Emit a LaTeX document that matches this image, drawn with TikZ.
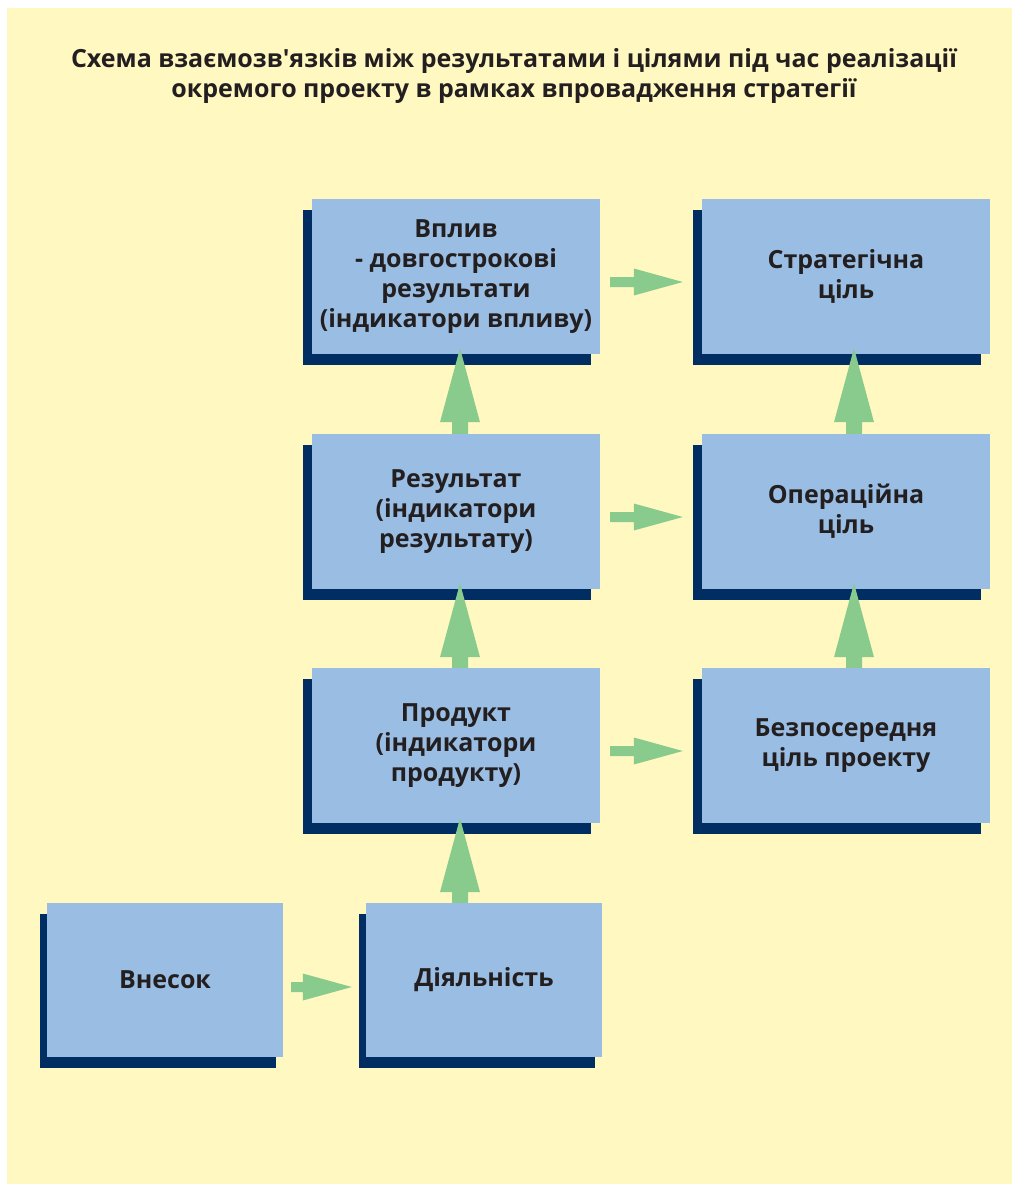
\documentclass[tikz,border=0pt]{standalone}
\usepackage{fontspec}
\setmainfont{Open Sans}
\usetikzlibrary{calc,shadows}
\definecolor{bgc}{RGB}{255,248,192}
\definecolor{boxc}{RGB}{154,189,227}
\definecolor{shadc}{RGB}{0,45,98}
\definecolor{arrc}{RGB}{137,203,141}
\definecolor{txtc}{RGB}{35,31,32}
\tikzset{
  bigbox/.style={fill=boxc, draw=none, minimum width=288pt, minimum height=155pt, inner sep=0pt,
    align=center, text=txtc, font=\bfseries\fontsize{25}{30}\selectfont,
    general shadow={fill=shadc, shadow xshift=-9pt, shadow yshift=-11pt}},
  smallbox/.style={fill=boxc, draw=none, minimum width=236pt, minimum height=154pt, inner sep=0pt,
    align=center, text=txtc, font=\bfseries\fontsize{25}{30}\selectfont,
    general shadow={fill=shadc, shadow xshift=-7pt, shadow yshift=-11pt}},
  titlec/.style={align=center, text=txtc, font=\bfseries\fontsize{25}{30}\selectfont, inner sep=0pt},
  arrowfill/.style={fill=arrc, draw=none}
}
\newcommand\harrow[2]{\path[arrowfill] let \p1=(#1), \p2=(#2) in
  (\x1,\y1+5pt) -- (\x2-49pt,\y1+5pt) -- (\x2-49pt,\y1+13.5pt) -- (\x2,\y1) --
  (\x2-49pt,\y1-13.5pt) -- (\x2-49pt,\y1-5pt) -- (\x1,\y1-5pt) -- cycle;}
\newcommand\varrow[2]{\path[arrowfill] let \p1=(#1), \p2=(#2) in
  (\x1-8pt,\y1) -- (\x1-8pt,\y2-74pt) -- (\x1-20pt,\y2-74pt) -- (\x1,\y2) --
  (\x1+20pt,\y2-74pt) -- (\x1+8pt,\y2-74pt) -- (\x1+8pt,\y1) -- cycle;}
\begin{document}
\begin{tikzpicture}[x=1pt,y=-1pt]
\useasboundingbox (0,0) rectangle (1012,1184);
\fill[white] (0,0) rectangle (1012,1184);
\fill[bgc] (7,8) rectangle (1012,1184);
\node[titlec] (title) at (514,76) {Схема взаємозв\textquotesingle язків між результатами і цілями під час реалізації\\окремого проекту в рамках впровадження стратегії};
\node[bigbox] (vplyv) at (456,276.5) {Вплив\\- довгострокові\\результати\\(індикатори впливу)};
\node[bigbox] (strat) at (846,276.5) {Стратегічна\\ціль};
\node[bigbox] (rez) at (456,511.5) {Результат\\(індикатори\\результату)};
\node[bigbox] (oper) at (846,511.5) {Операційна\\ціль};
\node[bigbox] (prod) at (456,745.5) {Продукт\\(індикатори\\продукту)};
\node[bigbox] (bezp) at (846,745.5) {Безпосередня\\ціль проекту};
\node[smallbox] (vnesok) at (165,980) {Внесок};
\node[smallbox] (diyal) at (484,980) {Діяльність};
% horizontal arrows
\harrow{$(vplyv.east)+(10,5.5)$}{$(strat.west)+(-19,5.5)$}
\harrow{$(rez.east)+(10,5.5)$}{$(oper.west)+(-19,5.5)$}
\harrow{$(prod.east)+(10,5.5)$}{$(bezp.west)+(-19,5.5)$}
\harrow{$(vnesok.east)+(8,7)$}{$(diyal.west)+(-14,7)$}
% vertical arrows
\varrow{$(rez.north)+(4,0)$}{$(vplyv.south)+(4,-6)$}
\varrow{$(prod.north)+(4,0)$}{$(rez.south)+(4,-6)$}
\varrow{$(diyal.north)+(-24,0)$}{$(prod.south)+(4,-5)$}
\varrow{$(oper.north)+(8,0)$}{$(strat.south)+(8,-6)$}
\varrow{$(bezp.north)+(8,0)$}{$(oper.south)+(8,-6)$}
\end{tikzpicture}
\end{document}
